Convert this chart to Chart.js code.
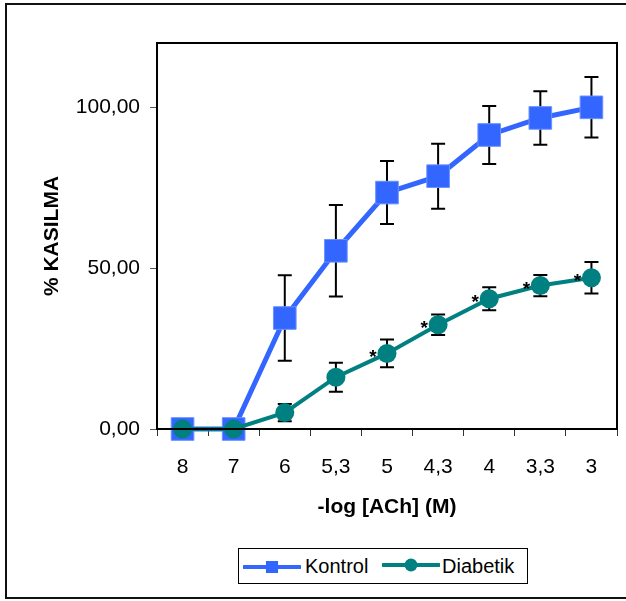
<!DOCTYPE html>
<html lang="tr">
<head>
  <meta charset="UTF-8">
  <title>% Kasilma - ACh</title>
  <script src="https://cdn.jsdelivr.net/npm/chart.js"></script>
  <style>
    body { margin: 0; background: #fff; font-family: "Liberation Sans", Arial, sans-serif; }
    #wrap { position: relative; width: 626px; height: 601px; overflow: hidden; }
    #frame { position: absolute; left: 5px; top: 3px; width: 640px; height: 592px;
             border: 2px solid #111; }
    #myChart { position: absolute; left: 0; top: 0; }
    #legend { position: absolute; left: 238px; top: 548px; width: 288px; height: 34px;
              border: 1px solid #000; background: #fff; font-size: 20px; }
    #legend svg, #legend span { position: absolute; }
  </style>
</head>
<body>
  <div id="wrap">
    <div id="frame"></div>
    <canvas id="myChart" width="626" height="601"></canvas>
    <!-- legend box like the Excel one -->
    <div id="legend">
      <svg style="left:4px; top:10px" width="58" height="16">
        <line x1="1" y1="8" x2="57" y2="8" stroke="#3366FF" stroke-width="4" stroke-linecap="round"/>
        <rect x="23" y="2" width="12" height="12" fill="#3366FF"/>
      </svg>
      <span id="lab0" style="left:66px; top:6px"></span>
      <svg style="left:143px; top:8px" width="58" height="16">
        <line x1="1" y1="8" x2="57" y2="8" stroke="#008080" stroke-width="4" stroke-linecap="round"/>
        <circle cx="29" cy="8" r="6.5" fill="#008080"/>
      </svg>
      <span id="lab1" style="left:203px; top:6px"></span>
    </div>
  </div>

  <script>
    // -log [ACh] (M)
    const doses = ['8', '7', '6', '5,3', '5', '4,3', '4', '3,3', '3'];
    const seriesNames = ['Kontrol', 'Diabetik'];

    const kontrol = [0, 0, 34.5, 55.4, 73.5, 78.6, 91.4, 96.7, 100];
    const kontrolErr = [0, 0, 13.3, 14.2, 9.8, 10.1, 9.0, 8.3, 9.4];

    const diabetik = [0, 0, 5.1, 16.1, 23.5, 32.4, 40.5, 44.6, 47.0];
    const diabetikErr = [0, 0, 2.7, 4.5, 4.3, 3.2, 3.6, 3.3, 4.9];

    // significance marks over the diabetic points
    const marks = ['', '', '', '', '*', '*', '*', '*', '*'];

    const yTicks = [0, 50, 100];

    const FONT = '"Liberation Sans", Arial, sans-serif';

    // error bars, under the markers
    const errorBars = {
      id: 'errorBars',
      beforeDatasetsDraw(chart) {
        const { ctx, scales: { x, y } } = chart;
        ctx.save();
        ctx.strokeStyle = '#000';
        ctx.lineWidth = 2;
        chart.data.datasets.forEach(ds => {
          ds.errors.forEach((e, j) => {
            if (!e) return;
            const px = x.getPixelForValue(j);
            const t = y.getPixelForValue(ds.data[j] + e);
            const b = y.getPixelForValue(ds.data[j] - e);
            ctx.beginPath();
            ctx.moveTo(px, t); ctx.lineTo(px, b);
            ctx.moveTo(px - 7, t); ctx.lineTo(px + 7, t);
            ctx.moveTo(px - 7, b); ctx.lineTo(px + 7, b);
            ctx.stroke();
          });
        });
        ctx.restore();
      },
      afterDatasetsDraw(chart) {
        const { ctx, scales: { x, y } } = chart;
        ctx.save();
        ctx.fillStyle = '#000';
        ctx.font = 'bold 19px ' + FONT;
        ctx.textAlign = 'center';
        ctx.textBaseline = 'middle';
        marks.forEach((m, j) => {
          if (!m) return;
          ctx.fillText(m, x.getPixelForValue(j) - 14, y.getPixelForValue(diabetik[j]) + 4);
        });
        ctx.restore();
      },
      afterDraw(chart) {
        // box round the plot
        const { ctx, chartArea: a } = chart;
        ctx.save();
        ctx.strokeStyle = '#000';
        ctx.lineWidth = 2;
        ctx.strokeRect(a.left, a.top, a.right - a.left, a.bottom - a.top);
        ctx.restore();
      }
    };

    const ctx = document.getElementById('myChart').getContext('2d');
    const chart = new Chart(ctx, {
      type: 'line',
      data: {
        labels: doses,
        datasets: [{
          label: seriesNames[0],
          data: kontrol,
          errors: kontrolErr,
          borderColor: '#3366FF',
          backgroundColor: '#3366FF',
          borderWidth: 5,
          pointStyle: 'rect',
          pointRadius: 16,
          pointHoverRadius: 16,
          pointBorderWidth: 1,
          pointBorderColor: '#6b92ff',
          clip: false,
          order: 1
        }, {
          label: seriesNames[1],
          data: diabetik,
          errors: diabetikErr,
          borderColor: '#008080',
          backgroundColor: '#008080',
          borderWidth: 4,
          pointStyle: 'circle',
          pointRadius: 9.5,
          pointHoverRadius: 9.5,
          pointBorderWidth: 0,
          clip: false,
          order: 0
        }]
      },
      options: {
        responsive: false,
        animation: false,
        layout: { autoPadding: false, padding: { top: 43, right: 9, bottom: 61, left: 0 } },
        plugins: {
          legend: { display: false },
          tooltip: { enabled: false }
        },
        scales: {
          x: {
            offset: true,
            grid: { offset: true, drawOnChartArea: false, tickLength: 7, color: '#333', tickWidth: 1 },
            border: { display: true, color: '#000', width: 2 },
            ticks: { color: '#000', padding: 19, font: { family: FONT, size: 21 } },
            title: {
              display: true, text: '-log [ACh] (M)', color: '#000',
              font: { family: FONT, size: 21, weight: 'bold', lineHeight: 1.2 },
              padding: { bottom: 20 }
            },
            afterFit(scale) {
              scale.height = 111;
              scale.paddingLeft = 0;
              scale.paddingRight = 0;
            }
          },
          y: {
            min: 0,
            max: 120,
            afterBuildTicks(scale) { scale.ticks = yTicks.map(v => ({ value: v })); },
            grid: { drawOnChartArea: false, tickLength: 7, color: '#555', tickWidth: 1 },
            border: { display: true, color: '#000', width: 2 },
            ticks: {
              color: '#000', padding: 10, font: { family: FONT, size: 21 },
              callback: v => v.toFixed(2).replace('.', ',')
            },
            title: {
              display: true, text: '% KASILMA', color: '#000',
              font: { family: FONT, size: 21, weight: 'bold', lineHeight: 1.2 },
              padding: { top: 40 }
            },
            afterFit(scale) {
              scale.width = 157;
              scale.paddingTop = 0;
              scale.paddingBottom = 0;
            }
          }
        }
      },
      plugins: [errorBars]
    });

    document.getElementById('lab0').textContent = seriesNames[0];
    document.getElementById('lab1').textContent = seriesNames[1];
  </script>
</body>
</html>
